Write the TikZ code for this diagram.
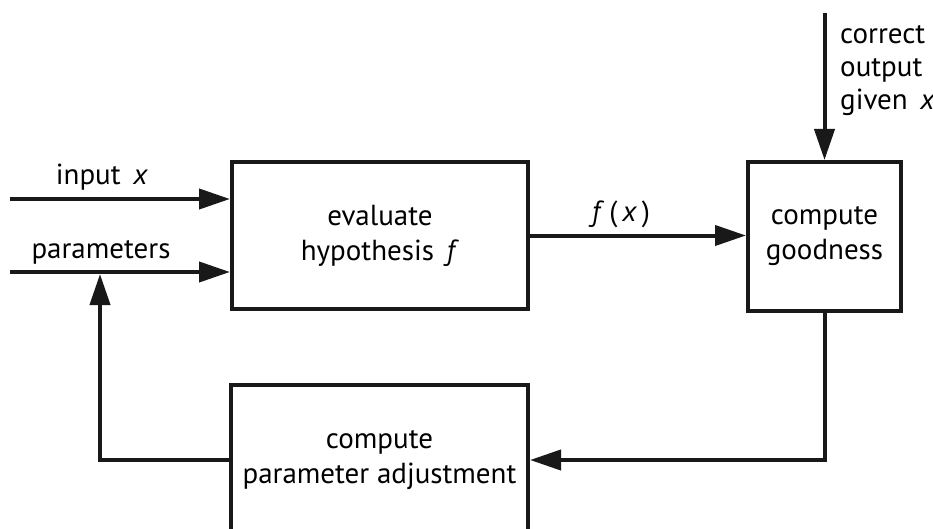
\documentclass[tikz,border=0pt]{standalone}
\usepackage{fontspec}
\setmainfont{PT Sans}
\usetikzlibrary{arrows.meta}
\begin{document}
\begin{tikzpicture}[x=1pt,y=-1pt,
  font=\fontsize{29}{35}\selectfont,
  block/.style={draw=black!90, line width=4pt, rectangle, align=center, inner sep=0pt},
  conn/.style={draw=black!90, line width=4pt, line join=miter, -{Triangle[length=31pt,width=20pt]}},
  lbl/.style={anchor=base, inner sep=0pt}]
  \useasboundingbox (0,0) rectangle (933,529);

  % processing blocks
  \node[block, minimum width=296pt, minimum height=147pt] (eval) at (380,235.5)
    {evaluate\\hypothesis~\,\textit{f}};
  \node[block, minimum width=153pt, minimum height=149pt] (good) at (824.5,236.5)
    {compute\\goodness};
  \node[block, minimum width=297pt, minimum height=150pt] (adj) at (379.5,460)
    {compute\\parameter adjustment};

  % free ends of the inputs
  \coordinate (inx) at (10,199);
  \coordinate (par) at (10,272);
  \coordinate (cor) at (824.5,13);
  \coordinate (fbtip) at (100,274);

  % connectors
  \draw[conn] (inx) -- (inx -| eval.west);
  \draw[conn] (par) -- (par -| eval.west);
  \draw[conn] (eval.east) -- (eval.east -| good.west);
  \draw[conn] (cor) -- (good.north);
  \draw[conn] (good.south) |- (adj.east);
  \draw[conn] (adj.west) -| (fbtip);

  % labels
  \node[lbl] (linx) at (102,185) {input~\,\textit{x}};
  \node[lbl] (lpar) at (101,258) {parameters};
  \node[lbl] (lfx) at (621,222) {\textit{f}\,(\,\textit{x}\,)};
  \node[anchor=north west, inner sep=0pt, align=left,
        font=\fontsize{29}{33}\selectfont] (lcor) at (840,25)
    {correct\\output\\given~\,\textit{x}};
\end{tikzpicture}
\end{document}
